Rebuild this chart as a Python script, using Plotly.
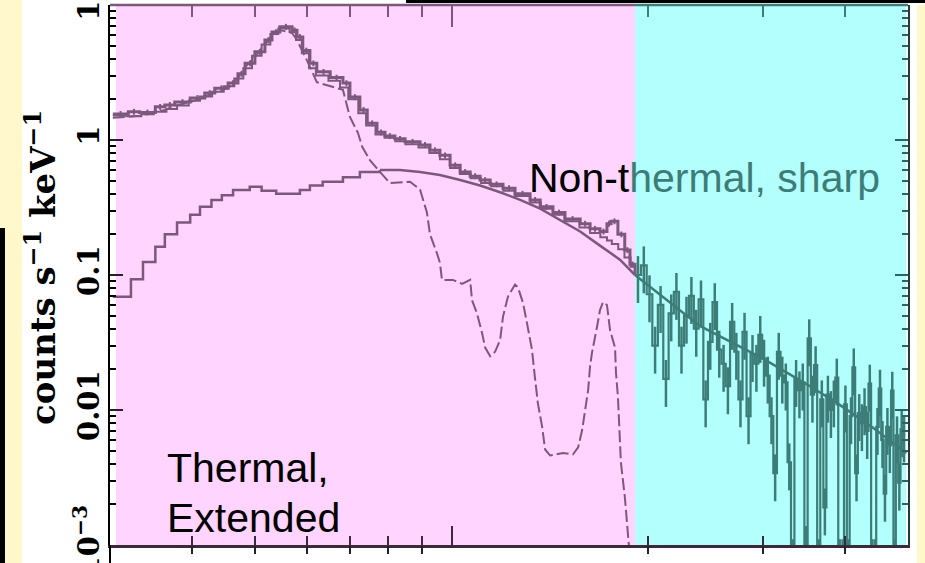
import numpy as np
import plotly.graph_objects as go

# ---------------- data ----------------
# observed spectrum, data set 1 (soft band), energy in keV, counts/s/keV
E_D1 = [0.303, 0.320, 0.333, 0.352, 0.364, 0.377, 0.398, 0.419, 0.434, 0.455,
        0.471, 0.483, 0.500, 0.518, 0.531, 0.546, 0.570, 0.580, 0.592, 0.607,
        0.622, 0.652, 0.682, 0.699, 0.724, 0.743, 0.769, 0.791, 0.819, 0.849,
        0.895, 0.927, 0.960, 0.995, 1.031, 1.068, 1.106, 1.146, 1.199, 1.251,
        1.319, 1.367, 1.430, 1.492, 1.574, 1.630, 1.688, 1.730, 1.755, 1.798,
        1.842, 1.876, 1.91]
C_D1 = [1.56, 1.62, 1.60, 1.76, 1.82, 1.91, 2.05, 2.23, 2.42, 2.64,
        3.1, 3.7, 4.5, 5.5, 6.3, 6.9, 6.5, 5.8, 4.6, 3.7,
        3.2, 2.9, 2.64, 2.08, 1.67, 1.33, 1.14, 1.07, 1.02, 0.97,
        0.92, 0.84, 0.77, 0.65, 0.58, 0.54, 0.505, 0.47, 0.44, 0.40,
        0.36, 0.32, 0.29, 0.26, 0.24, 0.22, 0.21, 0.24, 0.25, 0.20,
        0.153, 0.12, 0.10]

# observed spectrum, data set 2 (soft band)
E_D2 = [0.303, 0.318, 0.335, 0.350, 0.366, 0.380, 0.396, 0.412, 0.430, 0.448,
        0.465, 0.480, 0.495, 0.512, 0.528, 0.543, 0.565, 0.578, 0.590, 0.605,
        0.620, 0.648, 0.675, 0.695, 0.720, 0.740, 0.765, 0.790, 0.820, 0.850,
        0.890, 0.925, 0.960, 0.995, 1.03, 1.07, 1.11, 1.15, 1.20, 1.25,
        1.32, 1.37, 1.43, 1.49, 1.57, 1.63, 1.69, 1.73, 1.76, 1.80,
        1.84, 1.88, 1.91]
C_D2 = [1.52, 1.50, 1.55, 1.62, 1.70, 1.80, 1.95, 2.10, 2.28, 2.50,
        2.85, 3.4, 4.2, 5.1, 6.1, 6.7, 6.3, 5.5, 4.4, 3.4,
        3.0, 2.75, 2.45, 2.0, 1.58, 1.28, 1.10, 1.04, 0.98, 0.93,
        0.88, 0.80, 0.72, 0.62, 0.56, 0.52, 0.48, 0.455, 0.42, 0.385,
        0.345, 0.31, 0.28, 0.25, 0.225, 0.205, 0.19, 0.18, 0.17, 0.155,
        0.135, 0.115, 0.10]

# thermal model component
E_TH = [0.303, 0.320, 0.333, 0.352, 0.364, 0.377, 0.398, 0.419, 0.434, 0.455,
        0.471, 0.483, 0.500, 0.518, 0.531, 0.546, 0.570, 0.580, 0.592, 0.607,
        0.622, 0.682, 0.699, 0.719, 0.730, 0.750, 0.777, 0.805, 0.864, 0.895,
        0.917, 0.927, 0.950, 0.960, 0.967, 1.005, 1.038, 1.068, 1.075, 1.094,
        1.114, 1.126, 1.146, 1.166, 1.187, 1.199, 1.220, 1.251, 1.264, 1.287,
        1.305, 1.328, 1.342, 1.356, 1.376, 1.391, 1.416, 1.482, 1.535, 1.563,
        1.585, 1.602, 1.619, 1.630, 1.641, 1.670, 1.688, 1.706, 1.730, 1.749,
        1.780, 1.786, 1.798, 1.805, 1.817, 1.842, 1.862, 1.876]
C_TH = [1.46, 1.48, 1.51, 1.61, 1.67, 1.79, 1.91, 2.08, 2.27, 2.42,
        2.88, 3.47, 4.12, 5.14, 5.90, 6.53, 6.2, 5.51, 4.5, 3.5,
        2.68, 2.35, 1.48, 1.13, 0.89, 0.71, 0.58, 0.48, 0.49, 0.43,
        0.29, 0.20, 0.145, 0.123, 0.092, 0.092, 0.086, 0.092, 0.065, 0.052,
        0.037, 0.029, 0.025, 0.027, 0.033, 0.049, 0.069, 0.085, 0.081, 0.062,
        0.044, 0.028, 0.0174, 0.0112, 0.0076, 0.0051, 0.0046, 0.0048, 0.0047, 0.0053,
        0.0071, 0.0105, 0.0141, 0.0211, 0.0266, 0.041, 0.055, 0.063, 0.060, 0.039,
        0.029, 0.0188, 0.0126, 0.0084, 0.0041, 0.0023, 0.00126, 0.0008]

# non-thermal (power-law) component: binned low-energy part
E_PL1 = [0.303, 0.323, 0.337, 0.352, 0.364, 0.380, 0.398, 0.412, 0.429, 0.445,
         0.463, 0.491, 0.512, 0.539, 0.586, 0.607, 0.635, 0.682, 0.724, 0.777]
C_PL1 = [0.069, 0.093, 0.125, 0.162, 0.20, 0.245, 0.28, 0.32, 0.36, 0.39,
         0.426, 0.45, 0.42, 0.40, 0.426, 0.46, 0.49, 0.53, 0.58, 0.60]
# smooth part in the soft band
E_PL2 = [0.777, 0.834, 0.895, 0.960, 1.031, 1.106, 1.187, 1.274, 1.367, 1.467,
         1.574, 1.688, 1.811, 1.91]
C_PL2 = [0.60, 0.60, 0.58, 0.55, 0.505, 0.46, 0.41, 0.36, 0.31, 0.255,
         0.21, 0.165, 0.13, 0.10]
# hard band model line
E_PL3 = [1.91, 2.4, 3.0, 3.5, 3.9, 4.4, 4.97]
C_PL3 = [0.1, 0.042, 0.024, 0.0155, 0.0112, 0.0075, 0.0048]

# hard band observed data (noisy)
E_HI = [1.91, 1.95, 1.99, 2.03, 2.07, 2.11, 2.15, 2.19, 2.23, 2.27,
        2.31, 2.35, 2.39, 2.43, 2.47, 2.51, 2.55, 2.59, 2.63, 2.67,
        2.71, 2.75, 2.79, 2.83, 2.87, 2.91, 2.95, 2.99, 3.03, 3.07,
        3.11, 3.15, 3.19, 3.23, 3.27, 3.31, 3.35, 3.39, 3.43, 3.47,
        3.51, 3.55, 3.59, 3.63, 3.67, 3.71, 3.75, 3.79, 3.83, 3.87,
        3.91, 3.95, 3.99, 4.03, 4.07, 4.11, 4.15, 4.19, 4.23, 4.27,
        4.31, 4.35, 4.39, 4.43, 4.47, 4.51, 4.55, 4.59, 4.63, 4.67,
        4.71, 4.75, 4.79, 4.83, 4.87, 4.91, 4.95]
C_HI = [0.100, 0.118, 0.072, 0.030, 0.060, 0.017, 0.052, 0.075, 0.030, 0.050,
        0.070, 0.040, 0.066, 0.012, 0.032, 0.063, 0.028, 0.022, 0.015, 0.045,
        0.027, 0.012, 0.038, 0.009, 0.026, 0.022, 0.036, 0.024, 0.018, 0.009,
        0.0034, 0.027, 0.018, 0.016, 0.0041, 0.0008, 0.017, 0.014, 0.016, 0.001,
        0.034, 0.013, 0.0215, 0.0008, 0.012, 0.0019, 0.013, 0.010, 0.012, 0.0174,
        0.0008, 0.0008, 0.011, 0.0008, 0.009, 0.0207, 0.0034, 0.0095, 0.008, 0.0105,
        0.007, 0.0157, 0.0008, 0.0008, 0.0075, 0.0144, 0.006, 0.0024, 0.0075, 0.0055,
        0.0139, 0.0008, 0.0065, 0.0029, 0.0072, 0.0066, 0.0066]

Y_TICKS = [0.001, 0.01, 0.1, 1, 10]
Y_TICKTEXT = ["10<sup>\u22123</sup>", "0.01", "0.1", "1", "10"]
X_MAJOR = [1]
X_MINOR_SOFT = [0.4, 0.5, 0.6, 0.7, 0.8, 0.9]
X_MINOR_HARD = [2, 3, 4]

E_MIN, E_MAX = 0.3, 5.0
E_SPLIT = 1.91           # boundary between the two shaded bands

# ---------------- style ----------------
PURPLE = "#7d587d"
TEAL = "#3d7d78"
PINK = "#ffd4fe"
CYAN = "#b3fffd"
CREAM = "#fff8cc"
DARK = "#3a2a3a"

W, H = 925, 563
L, R, T, B = 110, 17, 5, 18
PW, PH = W - L - R, H - T - B


def px_x(px):
    return (px - L) / PW


def px_y(py):
    return 1 - (py - T) / PH


def e_paper(e):
    return (np.log10(e) - np.log10(E_MIN)) / (np.log10(E_MAX) - np.log10(E_MIN))


fig = go.Figure()


def line(x, y, color, width, shape="linear", dash=None):
    fig.add_trace(go.Scatter(x=x, y=y, mode="lines",
                             line=dict(color=color, width=width, shape=shape, dash=dash),
                             showlegend=False, hoverinfo="skip"))


def errbars(x, y, color, pct, thick):
    n = min(len(x), len(y)) - 1
    xc = [np.sqrt(x[i] * x[i + 1]) for i in range(n)]
    fig.add_trace(go.Scatter(x=xc, y=y[:n], mode="markers",
                             marker=dict(size=1, color=color),
                             error_y=dict(type="percent", value=pct, thickness=thick,
                                          width=0, color=color),
                             showlegend=False, hoverinfo="skip"))


# soft band (pink) : purple lines
line(E_PL1, C_PL1, PURPLE, 2.5, shape="hv")
line(E_PL2, C_PL2, PURPLE, 2.5)
line(E_TH, C_TH, PURPLE, 2, dash="12px,4px")
line(E_D2, C_D2, PURPLE, 2, shape="hv")
line(E_D1, C_D1, PURPLE, 3, shape="hv")
errbars(E_D1, C_D1, PURPLE, 5, 2)

# hard band (cyan) : teal lines
errbars(E_HI, C_HI, TEAL, 38, 2.5)
line(E_HI, C_HI, TEAL, 2.2, shape="hv")
line(E_PL3, C_PL3, TEAL, 2.5)

# dummy traces so that the extra axes are drawn
for xa, ya in [("x2", "y"), ("x3", "y"), ("x4", "y"), ("x", "y2")]:
    fig.add_trace(go.Scatter(x=[None], y=[None], xaxis=xa, yaxis=ya,
                             showlegend=False, hoverinfo="skip"))

xr = [np.log10(E_MIN), np.log10(E_MAX)]
yr = [-3, 1]
yminor = [m * 10.0 ** k for k in range(-3, 1) for m in range(2, 10)]

common_x = dict(type="log", range=xr, autorange=False, showgrid=False, zeroline=False,
                showticklabels=False, automargin=False)
common_y = dict(type="log", range=yr, autorange=False, showgrid=False, zeroline=False,
                automargin=False)

tick_font = dict(family="DejaVu Serif", size=29, color="black", weight="bold")

fig.update_layout(
    width=W, height=H, autosize=False,
    margin=dict(l=L, r=R, t=T, b=B, autoexpand=False),
    paper_bgcolor="white",
    plot_bgcolor="white",
    showlegend=False,
    xaxis=dict(**common_x, anchor="y", showline=True, linecolor=DARK, linewidth=2.5,
               ticks="inside", tickmode="array", tickvals=X_MAJOR, ticklen=19,
               tickwidth=2, tickcolor=DARK,
               minor=dict(ticks="inside", tickmode="array",
                          tickvals=X_MINOR_SOFT + X_MINOR_HARD,
                          ticklen=9, tickwidth=2, tickcolor=DARK)),
    xaxis2=dict(**common_x, overlaying="x", side="top", anchor="y", showline=False,
                ticks="inside", tickmode="array", tickvals=X_MAJOR, ticklen=22,
                tickwidth=2, tickcolor=PURPLE,
                minor=dict(ticks="inside", tickmode="array", tickvals=X_MINOR_SOFT,
                           ticklen=12, tickwidth=2, tickcolor=PURPLE)),
    xaxis3=dict(**common_x, overlaying="x", side="top", anchor="y", showline=False,
                ticks="", tickmode="array", tickvals=[],
                minor=dict(ticks="inside", tickmode="array", tickvals=X_MINOR_HARD,
                           ticklen=12, tickwidth=2, tickcolor=TEAL)),
    xaxis4=dict(**common_x, overlaying="x", side="bottom", anchor="free", position=0,
                showline=False, ticks="", tickmode="array", tickvals=[],
                minor=dict(ticks="outside", tickmode="array",
                           tickvals=X_MINOR_SOFT + X_MINOR_HARD,
                           ticklen=8, tickwidth=2, tickcolor="#222222")),
    yaxis=dict(**common_y, anchor="x", showline=True, linecolor="black", linewidth=2,
               ticks="inside", tickmode="array", tickvals=Y_TICKS, ticktext=Y_TICKTEXT,
               ticklen=13, tickwidth=2, tickcolor="#2a1f2a",
               tickangle=-90, tickfont=tick_font, ticklabelstandoff=-3,
               ticklabeloverflow="allow",
               minor=dict(ticks="inside", tickmode="array", tickvals=yminor,
                          ticklen=6, tickwidth=2, tickcolor="black")),
    yaxis2=dict(**common_y, overlaying="y", side="right", anchor="x", showline=True,
                linecolor="#1e3d3b", linewidth=2, showticklabels=False,
                ticks="inside", tickmode="array", tickvals=Y_TICKS, ticklen=13,
                tickwidth=2, tickcolor="#2f6360",
                minor=dict(ticks="inside", tickmode="array", tickvals=yminor,
                           ticklen=6, tickwidth=2, tickcolor="#2f6360")),
)

split = e_paper(E_SPLIT)
page_top, page_bot = px_y(0), px_y(H)
shapes = [
    # shaded energy bands
    dict(type="rect", xref="paper", yref="paper", x0=px_x(116), x1=split, y0=0, y1=1,
         fillcolor=PINK, line=dict(width=0), layer="below"),
    dict(type="rect", xref="paper", yref="paper", x0=split, x1=px_x(906), y0=0, y1=1,
         fillcolor=CYAN, line=dict(width=0), layer="below"),
    # top frame, coloured per band
    dict(type="line", xref="paper", yref="paper", x0=0, x1=split, y0=1, y1=1,
         line=dict(color=PURPLE, width=2.5)),
    dict(type="line", xref="paper", yref="paper", x0=split, x1=1, y0=1, y1=1,
         line=dict(color=TEAL, width=2.5)),
    # slide decorations around the picture
    dict(type="rect", xref="paper", yref="paper", x0=px_x(0), x1=px_x(22),
         y0=page_bot, y1=page_top, fillcolor=CREAM, line=dict(width=0), layer="above"),
    dict(type="rect", xref="paper", yref="paper", x0=px_x(0), x1=px_x(5),
         y0=page_bot, y1=px_y(228), fillcolor="black", line=dict(width=0), layer="above"),
    dict(type="rect", xref="paper", yref="paper", x0=px_x(917), x1=px_x(925),
         y0=page_bot, y1=px_y(5), fillcolor=CREAM, line=dict(width=0), layer="above"),
    dict(type="rect", xref="paper", yref="paper", x0=px_x(406), x1=px_x(925),
         y0=px_y(3), y1=page_top, fillcolor="black", line=dict(width=0), layer="above"),
    # left axis of the lower panel, continuing below
    dict(type="line", xref="paper", yref="paper", x0=0, x1=0, y0=page_bot, y1=0,
         line=dict(color="black", width=2)),
]
fig.update_layout(shapes=shapes)

sans = "Liberation Sans, Arial, sans-serif"
fig.add_annotation(text="counts s<sup>\u22121</sup> keV<sup>\u22121</sup>",
                   xref="paper", yref="paper", x=px_x(41), y=px_y(268),
                   textangle=-90, showarrow=False, xanchor="center", yanchor="middle",
                   font=dict(family="DejaVu Serif", size=34, color="black", weight="bold"))
fig.add_annotation(text="Thermal,", xref="paper", yref="paper", x=px_x(165), y=px_y(468),
                   showarrow=False, xanchor="left", yanchor="middle",
                   font=dict(family=sans, size=41, color="black"))
fig.add_annotation(text="Extended", xref="paper", yref="paper", x=px_x(165), y=px_y(518),
                   showarrow=False, xanchor="left", yanchor="middle",
                   font=dict(family=sans, size=41, color="black"))
fig.add_annotation(text="Non-t<span style='color:%s'>hermal, sharp</span>" % TEAL,
                   xref="paper", yref="paper", x=px_x(527), y=px_y(178),
                   showarrow=False, xanchor="left", yanchor="middle",
                   font=dict(family=sans, size=41, color="black"))

fig.write_html(
    "out.html",
    config={"displayModeBar": False},
    post_script="document.body.style.margin='0';document.body.style.overflow='hidden';",
)
